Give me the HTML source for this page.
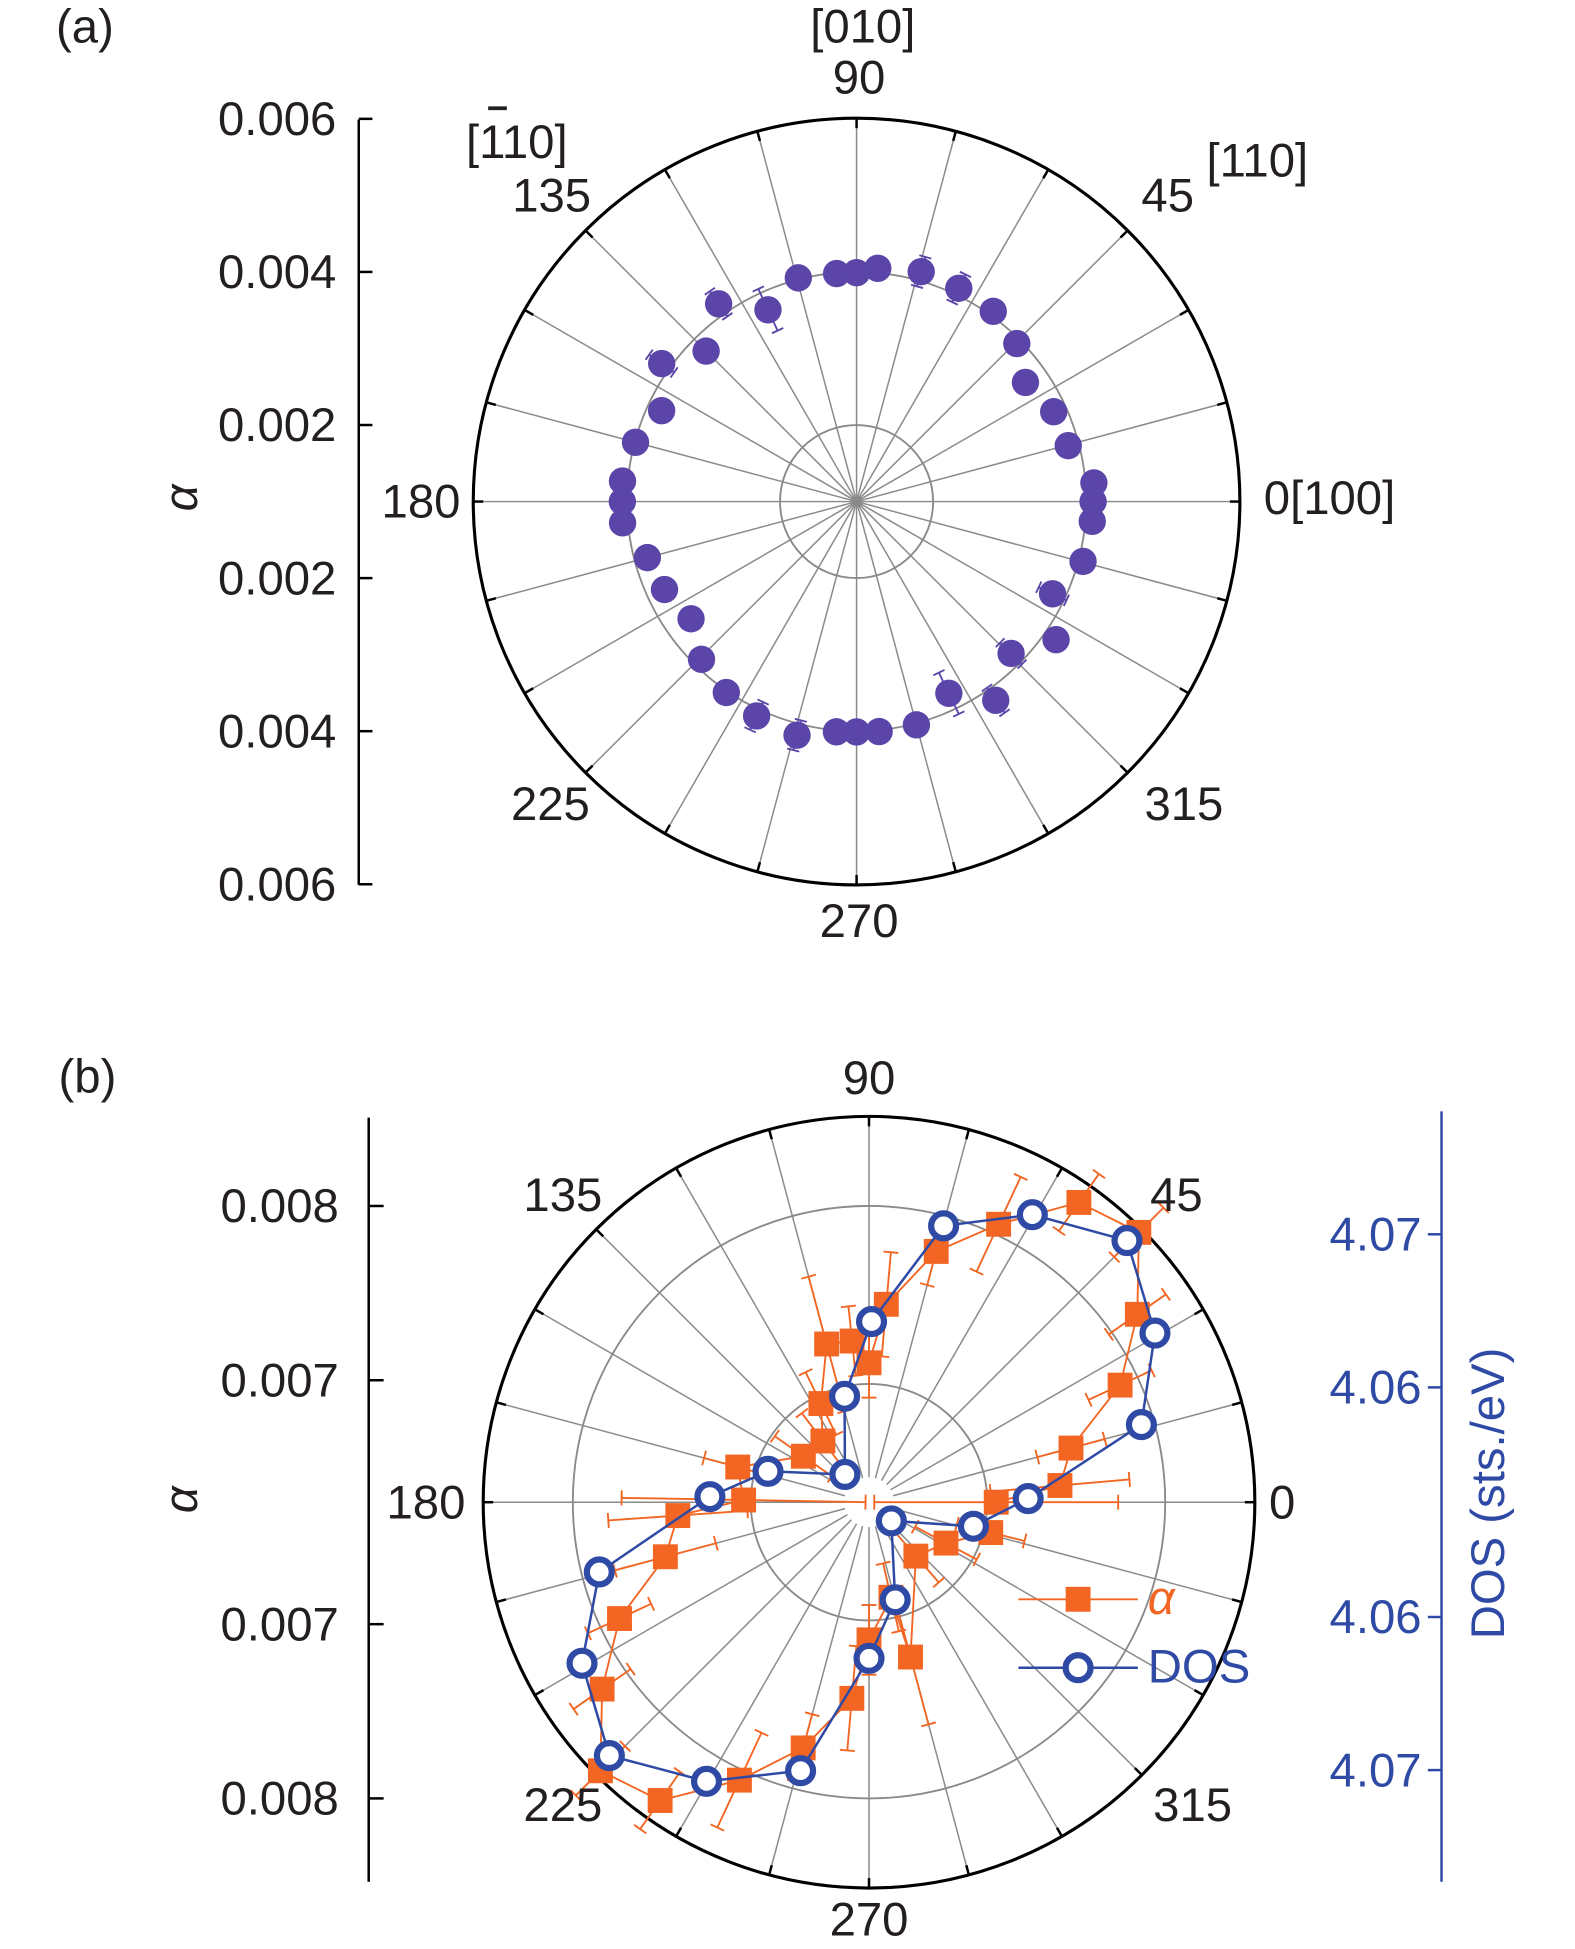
<!DOCTYPE html>
<html><head><meta charset="utf-8"><style>
html,body{margin:0;padding:0;background:#fff}
svg{display:block}
text{font-family:"Liberation Sans Narrow","Liberation Sans",sans-serif;font-size:38px;fill:#231f20}
</style></head><body>
<svg id="fig" width="1575" height="1949" viewBox="0 0 1265 1566" xmlns="http://www.w3.org/2000/svg">
<g id="pa"></g>
<g id="pb"></g>
</svg>
<script>
// Panel (a) data
const aAngles=[104.6,95,90,84.8,74.3,64.4,54.3,44.6,35.2,24.5,14.8,4.5,0,-4.8,-14.8,-25.2,-34.7,-44.5,-55,-64.3,-75,-84.4,-90,-95,-104.3,-115,-124.3,-134.5,-144.7,-155.4,-165,-174.8,180,175,165,155,144.7,135,124.9,114.8];
const aValues=[0.00402,0.00399,0.00399,0.00406,0.00412,0.00409,0.00406,0.00394,0.00370,0.00383,0.00386,0.00411,0.00409,0.00409,0.00406,0.00383,0.00417,0.00383,0.00417,0.00378,0.00402,0.00402,0.00401,0.00402,0.00415,0.00409,0.00402,0.00389,0.00365,0.00376,0.00383,0.00407,0.00406,0.00407,0.00399,0.00381,0.00412,0.00378,0.00415,0.00376];
const aErrors=[0,0,0,0,0.0002,0.0002,0,0,0,0,0,0,0,0,0,0.0002,0,0.0002,0.0002,0.0003,0,0,0,0,0.0002,0.0002,0,0,0,0,0,0,0,0,0,0,0.0002,0,0.0002,0.0003];
const aTicks=["0.006","0.004","0.002","0.002","0.004","0.006"];
// Panel (b) data
const bAlphaAngles=[0,5,15,25,35,45,55,65,75,85,90,96,105,116,127,145,165,179,184,195,205,215,225,235,245,255,265,270,283,285,311,332,346];
const bAlphaValues=[0.00703,0.0074,0.0075,0.00789,0.00818,0.00849,0.0084,0.00806,0.00779,0.00744,0.0071,0.00723,0.00724,0.00693,0.00674,0.00676,0.00708,0.00702,0.0074,0.00751,0.00788,0.00817,0.00848,0.00839,0.00806,0.00776,0.00743,0.00709,0.00686,0.00722,0.00671,0.0068,0.00702];
const bAlphaErrors=[0.0007,0.0004,0.0002,0.0002,0.0002,0.0002,0.0002,0.0003,0.0002,0.0003,0.0002,0.0002,0.0004,0.0002,0.0002,0.0002,0.0002,0.0007,0.0004,0.0003,0.0002,0.0002,0.0002,0.0002,0.0003,0.0002,0.0003,0.0002,0.0002,0.0004,0.0002,0.0002,0.0002];
const bDosAngles=[1.3,15.9,30.6,45.4,60.4,74.9,89.2,103,131,163,178,194.5,209.3,224.3,239.8,255.7,270,285,320,347];
const bDosValues=[4.0629,4.0710,4.0742,4.0765,4.0741,4.0712,4.0643,4.0596,4.0549,4.0594,4.0629,4.0707,4.0740,4.0762,4.0736,4.0706,4.0627,4.0591,4.0544,4.0595];
const bAlphaTicks=[0.008,0.007,0.007,0.008];
const bAlphaTickLabels=["0.008","0.007","0.007","0.008"];
const bDosTicks=[4.07,4.06,4.06,4.07];
const bDosTickLabels=["4.07","4.06","4.06","4.07"];

const NS="http://www.w3.org/2000/svg";
function mk(parent,tag,attrs,txt){const e=document.createElementNS(NS,tag);for(const k in attrs)e.setAttribute(k,attrs[k]);if(txt!==undefined)e.textContent=txt;parent.appendChild(e);return e;}
function pol(cx,cy,ang,r){const t=ang*Math.PI/180;return [cx+r*Math.cos(t),cy-r*Math.sin(t)];}

// ---------- Panel A ----------
const A=document.getElementById('pa');
const acx=688,acy=403,aR=308;
const aScale=v=>(v-0.001)*61500;
for(let k=0;k<24;k++){const[x,y]=pol(acx,acy,k*15,aR);const[x2,y2]=pol(acx,acy,k*15,aR-8);
 const l=mk(A,'line',{x1:acx,y1:acy,x2:x,y2:y,stroke:'#8a8a8a','stroke-width':1.2});
 
 
 mk(A,'line',{x1:x,y1:y,x2:x2,y2:y2,stroke:'#000','stroke-width':2});}
[aScale(0.002),aScale(0.004)].forEach(r=>{const c=mk(A,'circle',{cx:acx,cy:acy,r:r,fill:'none',stroke:'#8a8a8a','stroke-width':1.5});
 
 });
const ao=mk(A,'circle',{cx:acx,cy:acy,r:aR,fill:'none',stroke:'#000','stroke-width':2.5});


aAngles.forEach((a,i)=>{
 const r=aScale(aValues[i]);const[x,y]=pol(acx,acy,a,r);
 if(aErrors[i]>0){const e=aErrors[i]*61500;const[x1,y1]=pol(acx,acy,a,r-e);const[x2,y2]=pol(acx,acy,a,r+e);
  mk(A,'line',{x1:x1,y1:y1,x2:x2,y2:y2,stroke:'#5b45a8','stroke-width':1.5});
  [[x1,y1],[x2,y2]].forEach(([px,py])=>{const t=(a+90)*Math.PI/180;mk(A,'line',{x1:px-5*Math.cos(t),y1:py+5*Math.sin(t),x2:px+5*Math.cos(t),y2:py-5*Math.sin(t),stroke:'#5b45a8','stroke-width':1.5});});}
 const c=mk(A,'circle',{cx:x,cy:y,r:11,fill:'#5b45a8'});
 
 
});
const aax=mk(A,'line',{x1:288,y1:96,x2:288,y2:711,stroke:'#000','stroke-width':2});


const aTickVals=[0.006,0.004,0.002,0.002,0.004,0.006];
aTickVals.forEach((v,i)=>{const y=i<3?acy-aScale(v):acy+aScale(v);
 mk(A,'line',{x1:288,y1:y,x2:299,y2:y,stroke:'#000','stroke-width':2});
 const t=mk(A,'text',{x:270,y:y+13,'text-anchor':'end'},aTicks[i]);
 
 });
// ---------- Panel B ----------
const B=document.getElementById('pb');
const bcx=698,bcy=1207,bR=310;
const bScale=v=>(v-0.0063)*140000;
const dScale=d=>(d-4.0525)*12300;
for(let k=0;k<24;k++){const[x,y]=pol(bcx,bcy,k*15,bR);const[x0,y0]=pol(bcx,bcy,k*15,20);const[x2,y2]=pol(bcx,bcy,k*15,bR-8);
 const l=mk(B,'line',{x1:x0,y1:y0,x2:x,y2:y,stroke:'#8a8a8a','stroke-width':1.2});
 
 
 mk(B,'line',{x1:x,y1:y,x2:x2,y2:y2,stroke:'#000','stroke-width':2});}
[95,238].forEach(r=>{const c=mk(B,'circle',{cx:bcx,cy:bcy,r:r,fill:'none',stroke:'#8a8a8a','stroke-width':1.5});
 
 });
const bo=mk(B,'circle',{cx:bcx,cy:bcy,r:bR,fill:'none',stroke:'#000','stroke-width':2.5});


const OR='#f26522',BL='#2e4aa5';
let pts=bAlphaAngles.map((a,i)=>pol(bcx,bcy,a,bScale(bAlphaValues[i])));
const apl=mk(B,'polyline',{points:pts.map(p=>p.join(',')).join(' '),fill:'none',stroke:OR,'stroke-width':1.5});


bAlphaAngles.forEach((a,i)=>{const r=bScale(bAlphaValues[i]);const e=bAlphaErrors[i]*140000;
 const[x1,y1]=pol(bcx,bcy,a,r-e);const[x2,y2]=pol(bcx,bcy,a,r+e);
 mk(B,'line',{x1:x1,y1:y1,x2:x2,y2:y2,stroke:OR,'stroke-width':1.5});
 [[x1,y1],[x2,y2]].forEach(([px,py])=>{const t=(a+90)*Math.PI/180;mk(B,'line',{x1:px-6*Math.cos(t),y1:py+6*Math.sin(t),x2:px+6*Math.cos(t),y2:py-6*Math.sin(t),stroke:OR,'stroke-width':1.5});});
});
pts.forEach(([x,y])=>{const s=mk(B,'rect',{x:x-10,y:y-10,width:20,height:20,fill:OR});
 
 });
let dp=bDosAngles.map((a,i)=>pol(bcx,bcy,a,dScale(bDosValues[i])));
const dpl=mk(B,'polygon',{points:dp.map(p=>p.join(',')).join(' '),fill:'none',stroke:BL,'stroke-width':2});


dp.forEach(([x,y])=>{const c=mk(B,'circle',{cx:x,cy:y,r:10,fill:'#fff',stroke:BL,'stroke-width':5});
 
 });
const bax=mk(B,'line',{x1:296,y1:898,x2:296,y2:1512,stroke:'#000','stroke-width':2});


bAlphaTicks.forEach((v,i)=>{const y=i<2?bcy-bScale(v):bcy+bScale(v);
 mk(B,'line',{x1:296,y1:y,x2:308,y2:y,stroke:'#000','stroke-width':2});
 const t=mk(B,'text',{x:272,y:y+13,'text-anchor':'end'},bAlphaTickLabels[i]);
 
 });
const rax=mk(B,'line',{x1:1158,y1:893,x2:1158,y2:1512,stroke:BL,'stroke-width':2});


bDosTicks.forEach((v,i)=>{const y=i<2?bcy-dScale(v):bcy+dScale(v);
 mk(B,'line',{x1:1147,y1:y,x2:1158,y2:y,stroke:BL,'stroke-width':2});
 const t=mk(B,'text',{x:1105,y:y+13,'text-anchor':'middle',style:'fill:'+BL},bDosTickLabels[i]);
 
 });
</script>
<svg style="position:absolute;left:0;top:0" width="1575" height="1949" viewBox="0 0 1265 1566">
<text x="68" y="34" text-anchor="middle">(a)</text>
<text x="693" y="34" text-anchor="middle">[010]</text>
<text x="690" y="75" text-anchor="middle">90</text>
<text x="415" y="127" text-anchor="middle">[110]</text>
<line x1="392" y1="87" x2="407" y2="87" stroke="#231f20" stroke-width="3"/>
<text x="443" y="170" text-anchor="middle">135</text>
<text x="938" y="170" text-anchor="middle">45</text>
<text x="1010" y="142" text-anchor="middle">[110]</text>
<text x="338" y="416" text-anchor="middle">180</text>
<text x="1068" y="413" text-anchor="middle">0[100]</text>
<text x="442" y="659" text-anchor="middle">225</text>
<text x="951" y="659" text-anchor="middle">315</text>
<text x="690" y="753" text-anchor="middle">270</text>
<text transform="translate(158,400) rotate(-90)" text-anchor="middle" style="font-style:italic">α</text>
<text x="70" y="878" text-anchor="middle">(b)</text>
<text x="698" y="879" text-anchor="middle">90</text>
<text x="452" y="973" text-anchor="middle">135</text>
<text x="945" y="973" text-anchor="middle">45</text>
<text x="342" y="1220" text-anchor="middle">180</text>
<text x="1030" y="1220" text-anchor="middle">0</text>
<text x="452" y="1463" text-anchor="middle">225</text>
<text x="958" y="1463" text-anchor="middle">315</text>
<text x="698" y="1555" text-anchor="middle">270</text>
<text transform="translate(158,1205) rotate(-90)" text-anchor="middle" style="font-style:italic">α</text>
<text transform="translate(1208,1200) rotate(-90)" text-anchor="middle" style="fill:#2e4aa5">DOS (sts./eV)</text>
<g>
<line x1="818" y1="1285" x2="914" y2="1285" stroke="#f26522" stroke-width="1.5"/>
<rect x="856" y="1275" width="20" height="20" fill="#f26522"/>
<text x="922" y="1297" style="fill:#f26522;font-style:italic">α</text>
</g>
<g>
<line x1="818" y1="1340" x2="914" y2="1340" stroke="#2e4aa5" stroke-width="2"/>
<circle cx="866" cy="1340" r="10" fill="#fff" stroke="#2e4aa5" stroke-width="5"/>
<text x="922" y="1352" style="fill:#2e4aa5">DOS</text>
</g>
</svg>
</body></html>
